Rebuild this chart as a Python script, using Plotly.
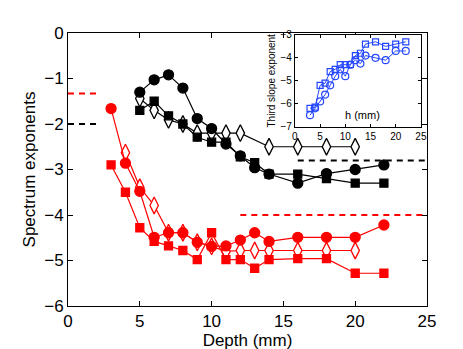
import plotly.graph_objects as go

# Main panel data: depth (mm) vs spectrum exponent
blk_circ_d = [5, 6, 7, 8, 9, 10, 11, 12, 13, 14, 16, 18, 20, 22]
blk_circ_v = [-1.3, -1.03, -0.92, -1.21, -1.88, -2.1, -2.44, -2.7, -2.96, -3.1, -3.3, -3.09, -3.0, -2.9]

blk_sq_d = [5, 6, 7, 8, 9, 10, 11, 12, 13, 14, 16, 18, 20, 22]
blk_sq_v = [-1.7, -1.5, -1.82, -2.0, -2.29, -2.4, -2.4, -2.72, -2.85, -3.1, -3.1, -3.2, -3.3, -3.3]

blk_dia_d = [5, 6, 7, 8, 9, 10, 11, 12, 14, 16, 18, 20]
blk_dia_v = [-1.44, -1.7, -1.91, -2.0, -2.2, -2.2, -2.2, -2.2, -2.5, -2.5, -2.5, -2.5]

red_circ_d = [3, 4, 5, 6, 7, 8, 9, 10, 11, 12, 13, 14, 16, 18, 20, 22]
red_circ_v = [-1.66, -2.86, -3.48, -4.49, -4.39, -4.39, -4.6, -4.69, -4.68, -4.55, -4.39, -4.58, -4.49, -4.49, -4.49, -4.22]

red_sq_d = [3, 4, 5, 6, 7, 8, 9, 10, 11, 12, 13, 14, 16, 18, 20, 22]
red_sq_v = [-2.9, -3.5, -4.28, -4.58, -4.68, -4.78, -4.98, -4.39, -4.98, -4.98, -5.17, -4.98, -4.96, -4.96, -5.28, -5.28]

red_dia_d = [4, 5, 6, 7, 8, 9, 10, 11, 12, 13, 14, 16, 18, 20]
red_dia_v = [-2.63, -3.39, -3.79, -4.39, -4.39, -4.6, -4.69, -4.8, -4.78, -4.78, -4.78, -4.78, -4.78, -4.78]

# reference levels (dashed)
ref_levels = [
    ([0, 2], -1.33, "red"),
    ([0, 2], -2.0, "black"),
    ([16, 25], -2.8, "black"),
    ([12, 25], -4.0, "red"),
]

# Inset data: h (mm) vs third slope exponent
ins_h = [3, 4, 5, 6, 7, 8, 9, 10, 11, 12, 13, 14, 16, 18, 20, 22]
ins_sq = [-6.2, -6.15, -5.2, -5.1, -4.6, -4.5, -4.3, -4.3, -4.3, -3.9, -3.8, -3.4, -3.3, -3.5, -3.4, -3.3]
ins_circ = [-6.5, -6.2, -5.9, -5.6, -5.2, -4.8, -4.5, -4.8, -4.3, -4.1, -4.25, -3.9, -4.0, -4.1, -3.7, -3.7]

BLUE = "#2446ff"
fig = go.Figure()

def series(x, y, color, symbol, size, filled=True):
    fig.add_trace(go.Scatter(
        x=x, y=y, mode="lines+markers",
        line=dict(color=color, width=1.2),
        marker=dict(symbol=symbol, size=size,
                    color=color if filled else "white",
                    line=dict(color=color, width=1.3)),
        showlegend=False, hoverinfo="skip"))

for xr, lv, c in ref_levels:
    fig.add_trace(go.Scatter(x=xr, y=[lv, lv], mode="lines",
                             line=dict(color=c, width=2, dash="6px,5px"),
                             showlegend=False, hoverinfo="skip"))

series(blk_dia_d, blk_dia_v, "black", "diamond-tall", 12, filled=False)
series(blk_sq_d, blk_sq_v, "black", "square", 8)
series(blk_circ_d, blk_circ_v, "black", "circle", 10)
series(red_dia_d, red_dia_v, "red", "diamond-tall", 12, filled=False)
series(red_sq_d, red_sq_v, "red", "square", 8)
series(red_circ_d, red_circ_v, "red", "circle", 10)

for ys, sym, sz in [(ins_circ, "circle-open", 7), (ins_sq, "square-open", 6)]:
    fig.add_trace(go.Scatter(
        x=ins_h, y=ys, mode="lines+markers", xaxis="x2", yaxis="y2",
        line=dict(color=BLUE, width=1),
        marker=dict(symbol=sym, size=sz, color=BLUE, line=dict(color=BLUE, width=1.2)),
        showlegend=False, hoverinfo="skip"))

ax_main = dict(showgrid=False, zeroline=False, showline=True, linecolor="black",
               linewidth=1, mirror="ticks", ticks="inside", ticklen=5,
               tickcolor="black", tickfont=dict(size=17, color="black"))
ax_ins = dict(showgrid=False, zeroline=False, showline=True, linecolor="black",
              linewidth=1, mirror="ticks", ticks="inside", ticklen=3,
              tickcolor="black", tickfont=dict(size=10, color="black"))

fig.update_layout(
    width=463, height=349,
    margin=dict(l=60, r=44, t=25, b=47),
    paper_bgcolor="white", plot_bgcolor="white",
    font=dict(family="Liberation Sans, Arial, sans-serif", color="black"),
    xaxis=dict(ax_main, range=[0, 25], tickvals=[0, 5, 10, 15, 20, 25],
               title=dict(text="Depth (mm)", font=dict(size=17), standoff=2)),
    yaxis=dict(ax_main, range=[-6, 0], tickvals=[0, -1, -2, -3, -4, -5, -6],
               title=dict(text="Spectrum exponents", font=dict(size=17), standoff=4)),
    xaxis2=dict(ax_ins, domain=[0.632, 0.983], anchor="y2", range=[0, 25],
                tickvals=[0, 5, 10, 15, 20, 25]),
    yaxis2=dict(ax_ins, domain=[0.657, 0.993], anchor="x2", range=[-7, -3],
                tickvals=[-7, -6, -5, -4, -3],
                title=dict(text="Third slope exponent", font=dict(size=10), standoff=2)),
    annotations=[dict(text="h (mm)", x=13.5, y=-6.5, xref="x2", yref="y2",
                      showarrow=False, font=dict(size=11, color="black"))],
)

fig.write_html("out.html")
